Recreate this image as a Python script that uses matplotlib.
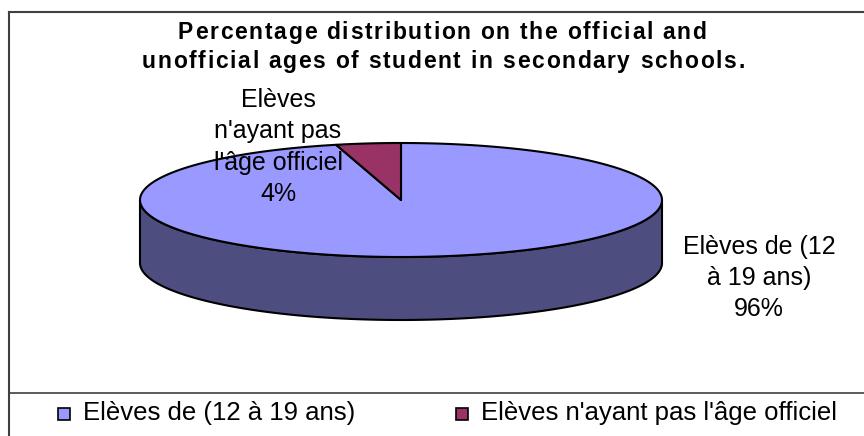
import numpy as np
import matplotlib
matplotlib.use('Agg')
import matplotlib.pyplot as plt
from matplotlib.patches import Polygon, Rectangle
from matplotlib.font_manager import FontProperties

# --- Data ---
legend_labels = ["Elèves de (12 à 19 ans)", "Elèves n'ayant pas l'âge officiel"]
values = [96, 4]
slice_labels = ["Elèves de (12\nà 19 ans)\n96%", "Elèves\nn'ayant pas\nl'âge officiel\n4%"]
title_lines = ["Percentage distribution on the official and",
               "unofficial ages of student in secondary schools."]

top_colors = ['#9999FF', '#993366']
side_colors = ['#4D4D80', '#4D1A33']

plt.rcParams['font.family'] = ['Liberation Sans', 'DejaVu Sans']

fig = plt.figure(figsize=(8.64, 4.36), dpi=100)
ax = fig.add_axes([0, 0, 1, 1])
ax.set_xlim(0, 864)
ax.set_ylim(436, 0)      # pixel coords, y down
ax.axis('off')

# --- chart frame (cropped Excel chart area) ---
ax.plot([9, 864], [12, 12], color='#404040', lw=1.5)
ax.plot([9, 9], [12, 436], color='#404040', lw=1.5)
ax.plot([9, 864], [393, 393], color='#404040', lw=1.2)

# --- 3D pie geometry (pixels) ---
cx, cy = 401, 200
rx, ry = 261, 57
depth = 63

def ell(theta):
    t = np.radians(theta)
    return cx + rx * np.cos(t), cy - ry * np.sin(t)

# slices go clockwise from 12 o'clock
fracs = np.array(values) / sum(values)
ends = 90 - 360 * np.cumsum(fracs)
starts = np.concatenate([[90], ends[:-1]])

# side walls: only the front half (180..360 deg) is visible
for s, e, col in zip(starts, ends, side_colors):
    for lo_v, hi_v in [(-180, 0), (180, 360)]:
        lo, hi = max(e, lo_v), min(s, hi_v)
        if hi <= lo:
            continue
        th = np.linspace(lo, hi, 200)
        x, y = ell(th)
        pts = np.vstack([np.column_stack([x, y]),
                         np.column_stack([x[::-1], y[::-1] + depth])])
        ax.add_patch(Polygon(pts, closed=True, facecolor=col,
                             edgecolor='black', lw=1.5, zorder=2))

# top faces
for s, e, col in zip(starts, ends, top_colors):
    th = np.linspace(e, s, 300)
    x, y = ell(th)
    pts = np.vstack([[cx, cy], np.column_stack([x, y])])
    ax.add_patch(Polygon(pts, closed=True, facecolor=col,
                         edgecolor='black', lw=1.5, joinstyle='round', zorder=3))

# slice labels
ax.text(759, 278, slice_labels[0], ha='center', va='center', fontsize=18,
        linespacing=1.38, zorder=5)
ax.text(278, 147, slice_labels[1], ha='center', va='center', fontsize=18,
        linespacing=1.38, zorder=5)

# --- title with Excel-like letter spacing ---
renderer = fig.canvas.get_renderer()
tprop = FontProperties(family='Liberation Sans', weight='bold', size=16.5)

def text_w(t):
    # measure with a trailing marker so trailing spaces count
    w1 = renderer.get_text_width_height_descent(t + 'I', tprop, ismath=False)[0]
    w2 = renderer.get_text_width_height_descent('I', tprop, ismath=False)[0]
    return w1 - w2

def spaced_text(s, xc, y, spacing):
    total = text_w(s) + spacing * (len(s) - 1)
    x0 = xc - total / 2
    for i, ch in enumerate(s):
        ax.text(x0 + text_w(s[:i]) + i * spacing, y, ch, fontproperties=tprop,
                ha='left', va='baseline', zorder=5)

spaced_text(title_lines[0], 442, 39, 1.7)
spaced_text(title_lines[1], 443, 68, 1.7)

# --- legend ---
leg_x = [58, 456]
for lx, lab, col in zip(leg_x, legend_labels, top_colors):
    ax.add_patch(Rectangle((lx, 408), 12, 12, facecolor=col,
                           edgecolor='black', lw=1.2, zorder=4))
    ax.text(lx + 25, 413, lab, ha='left', va='center', fontsize=18.5)

fig.savefig('out.png', dpi=100)
